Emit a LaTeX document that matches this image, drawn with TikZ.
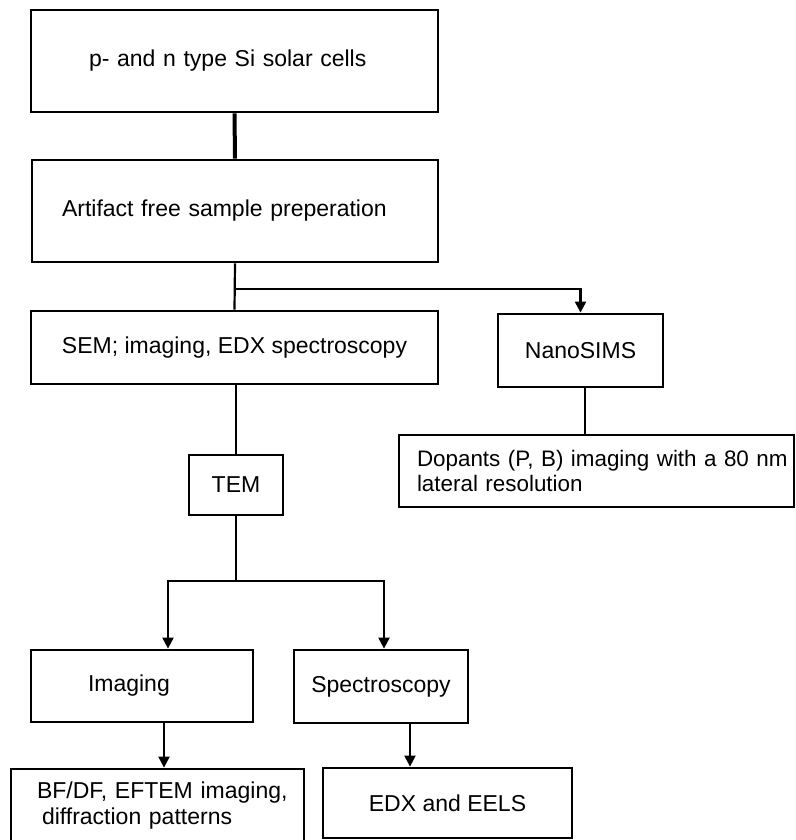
\documentclass[tikz,border=0pt]{standalone}
\usepackage{fontspec}
\setmainfont{Liberation Sans}
\usetikzlibrary{arrows.meta}

\begin{document}
\begin{tikzpicture}[x=1pt, y=-1pt,
    box/.style={draw, line width=2.8pt, font=\fontsize{23}{26}\selectfont, align=center, inner sep=0pt},
    leftbox/.style={box, align=left},
    link/.style={line width=2.2pt},
    arr/.style={link, -{Triangle[width=11pt,length=11pt]}}]
    \useasboundingbox (0,0) rectangle (795,840);
    \node[leftbox, text width=291pt, inner xsep=58pt, minimum height=102pt] (cells) at (234.5,61) {p- and n type Si solar cells};
    \node[leftbox, text width=346pt, inner xsep=30pt, minimum height=102pt] (prep) at (235,211) {Artifact free sample preperation};
    \node[box, minimum width=407pt, minimum height=73pt] (sem) at (234.5,347.5) {SEM; imaging, EDX spectroscopy};
    \node[box, minimum width=165pt, minimum height=73pt] (nano) at (580.5,350.5) {NanoSIMS};
    \node[leftbox, text width=359pt, inner xsep=18pt, minimum height=72pt, font=\fontsize{22.4}{25}\selectfont] (dop) at (596.5,471)
        {\mbox{Dopants (P, B) imaging with a 80 nm}\\lateral resolution};
    \node[box, minimum width=94pt, minimum height=60pt] (tem) at (236,485) {TEM};
    \node[leftbox, text width=108pt, inner xsep=57pt, minimum height=72pt] (img) at (142,686) {Imaging};
    \node[box, minimum width=174pt, minimum height=73pt] (spec) at (381,686.5) {Spectroscopy};
    \node[leftbox, text width=241pt, inner xsep=26pt, minimum height=73pt] (bfdf) at (157.5,805.5)
        {\mbox{BF/DF, EFTEM imaging,}\\\hspace*{5pt}diffraction patterns};
    \node[box, minimum width=249pt, minimum height=70pt] (edx) at (447.5,803) {EDX and EELS};

    \coordinate (split) at (235,289);
    \coordinate (fork) at (236,581);

    \draw[link, line width=4pt] (cells.south) -- (prep.north);
    \draw[link] (prep.south) -- (sem.north);
    \draw[arr] (split) -| (nano.north);
    \draw[link] ([xshift=4.5pt]nano.south) -- ([xshift=4.5pt]nano.south |- dop.north);
    \draw[link] (sem.south -| tem.north) -- (tem.north);
    \draw[link] (tem.south) -- (fork);
    \draw[arr] (fork) -| ([xshift=26pt]img.north);
    \draw[arr] (fork) -| ([xshift=3pt]spec.north);
    \draw[arr] ([xshift=22pt]img.south) -- ([xshift=22pt]img.south |- bfdf.north);
    \draw[arr] ([xshift=29pt]spec.south) -- ([xshift=29pt]spec.south |- edx.north);
\end{tikzpicture}
\end{document}
